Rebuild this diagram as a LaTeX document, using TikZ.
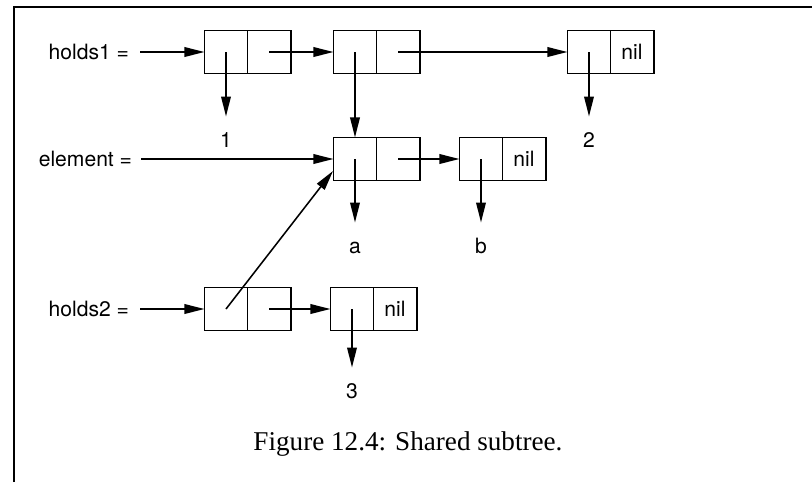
\documentclass[tikz,border=0pt]{standalone}
\usepackage{fontspec}
\setmainfont{Liberation Serif}
\setsansfont{TeX Gyre Heros}
\usetikzlibrary{arrows.meta, positioning}

\tikzset{
	cell/.style={draw, line width=1.4pt, minimum size=1.075cm, inner sep=0pt, outer sep=0pt, font=\sffamily\fontsize{15}{17}\selectfont},
	ptr/.style={-{Triangle[length=5mm,width=2.4mm]}, line width=1.1pt},
	tolab/.style={ptr, shorten >=5mm},
	lab/.style={font=\sffamily\fontsize{15}{17}\selectfont},
	val/.style={lab, inner sep=0pt, text height=0.26cm, text depth=0pt}
}

\begin{document}
\begin{tikzpicture}[x=0.025cm, y=-0.025cm]
					\useasboundingbox (0,0) rectangle (812,482);
					\draw[line width=0.9pt] (14,482) -- (14,7) -- (812,7);
					
					% holds1
					\node[lab, anchor=east] (h1) at (134,52) {holds1 =};
					\node[cell] (A1) at (226,52) {};
					\node[cell, right=0pt of A1] (A2) {};
					\node[cell] (B1) at (355,52) {};
					\node[cell, right=0pt of B1] (B2) {};
					\node[cell] (C1) at (589,52) {};
					\node[cell, right=0pt of C1] (C2) {nil};
					\node[val] (one) at (226,142) {1};
					\node[val] (two) at (589,142) {2};
					
					% element
					\node[lab, anchor=east] (el) at (137,159) {element =};
					\node[cell] (D1) at (355,159) {};
					\node[cell, right=0pt of D1] (D2) {};
					\node[cell] (E1) at (481,159) {};
					\node[cell, right=0pt of E1] (E2) {nil};
					\node[val] (a) at (355,248) {a};
					\node[val] (b) at (481,248) {b};
					\coordinate (Dlow) at (333,171);
					
					% holds2
					\node[lab, anchor=east] (h2) at (134,309) {holds2 =};
					\node[cell] (F1) at (226,309) {};
					\node[cell, right=0pt of F1] (F2) {};
					\node[cell] (G1) at (352,309) {};
					\node[cell, right=0pt of G1] (G2) {nil};
					\node[val] (three) at (352,393) {3};
					
					\draw[ptr, shorten <=1.5mm] (h1) -- (A1);
					\draw[ptr] (A2.center) -- (B1);
					\draw[ptr] (B2.center) -- (C1);
					\draw[tolab] (A1.center) -- (one);
					\draw[tolab] (C1.center) -- (two);
					\draw[ptr] (B1.center) -- (D1);
					
					\draw[ptr, shorten <=1mm] (el) -- (D1);
					\draw[ptr] (D2.center) -- (E1);
					\draw[tolab] (D1.center) -- (a);
					\draw[tolab] (E1.center) -- (b);
					
					\draw[ptr, shorten <=1.5mm] (h2) -- (F1);
					\draw[ptr] (F2.center) -- (G1);
					\draw[tolab] (G1.center) -- (three);
					\draw[ptr] (F1.center) -- (Dlow);
					
					\node[font=\fontsize{19.3}{22}\selectfont] (cap) at (408,444) {Figure 12.4: Shared subtree.};
				\end{tikzpicture}
\end{document}
